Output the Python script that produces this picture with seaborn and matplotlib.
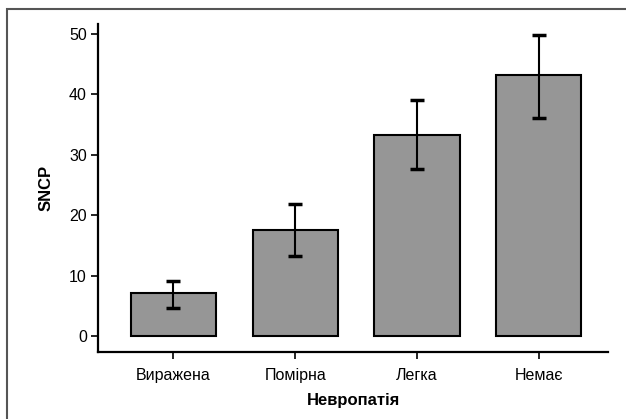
import matplotlib
matplotlib.use("Agg")
import matplotlib.pyplot as plt
import seaborn as sns
import pandas as pd
import numpy as np
from matplotlib.patches import Rectangle

categories = ["Виражена", "Помірна", "Легка", "Немає"]
means = [7.2, 17.6, 33.3, 43.2]
ci_low = [4.7, 13.2, 27.6, 36.0]
ci_high = [9.2, 21.9, 39.0, 49.8]
y_ticks = [0, 10, 20, 30, 40, 50]

sns.set_theme(style="ticks")
plt.rcParams["font.family"] = ["Liberation Sans Narrow", "Liberation Sans", "DejaVu Sans"]

df = pd.DataFrame({"group": categories, "value": means})

fig = plt.figure(figsize=(6.26, 4.19), dpi=100)
ax = fig.add_axes([98 / 626, 1 - 352 / 419, (608 - 98) / 626, (352 - 24) / 419])

sns.barplot(data=df, x="group", y="value", order=categories, color="#969696",
            saturation=1, width=0.7, edgecolor="black", linewidth=1.5,
            errorbar=None, ax=ax)

x = np.arange(len(categories))
m = np.array(means)
yerr = np.vstack([m - np.array(ci_low), np.array(ci_high) - m])
ax.errorbar(x, m, yerr=yerr, fmt="none", ecolor="black", elinewidth=1.5,
            capsize=5, capthick=2.5)

ax.set_xlim(-0.62, 3.57)
ax.set_ylim(-2.6, 51.6)
ax.set_yticks(y_ticks)
ax.set_yticklabels([str(t) for t in y_ticks])

for s in ["top", "right"]:
    ax.spines[s].set_visible(False)
for s in ["left", "bottom"]:
    ax.spines[s].set_linewidth(1.6)
    ax.spines[s].set_color("black")
ax.tick_params(axis="both", length=5, width=1.2, color="black",
               labelsize=11.5, labelcolor="black")
ax.tick_params(axis="x", pad=6.5)
ax.tick_params(axis="y", pad=3)

ax.set_xlabel("Невропатія", fontsize=12, fontweight="bold", labelpad=7, color="black")
ax.set_ylabel("SNCP", fontsize=12, fontweight="bold", labelpad=11, color="black")

fig.patches.append(Rectangle((6.5 / 626, -0.1), 1.2, 1 - 9.5 / 419 + 0.1,
                             transform=fig.transFigure, fill=False,
                             edgecolor="#555555", linewidth=1.5))

fig.savefig("out.png", dpi=100)
